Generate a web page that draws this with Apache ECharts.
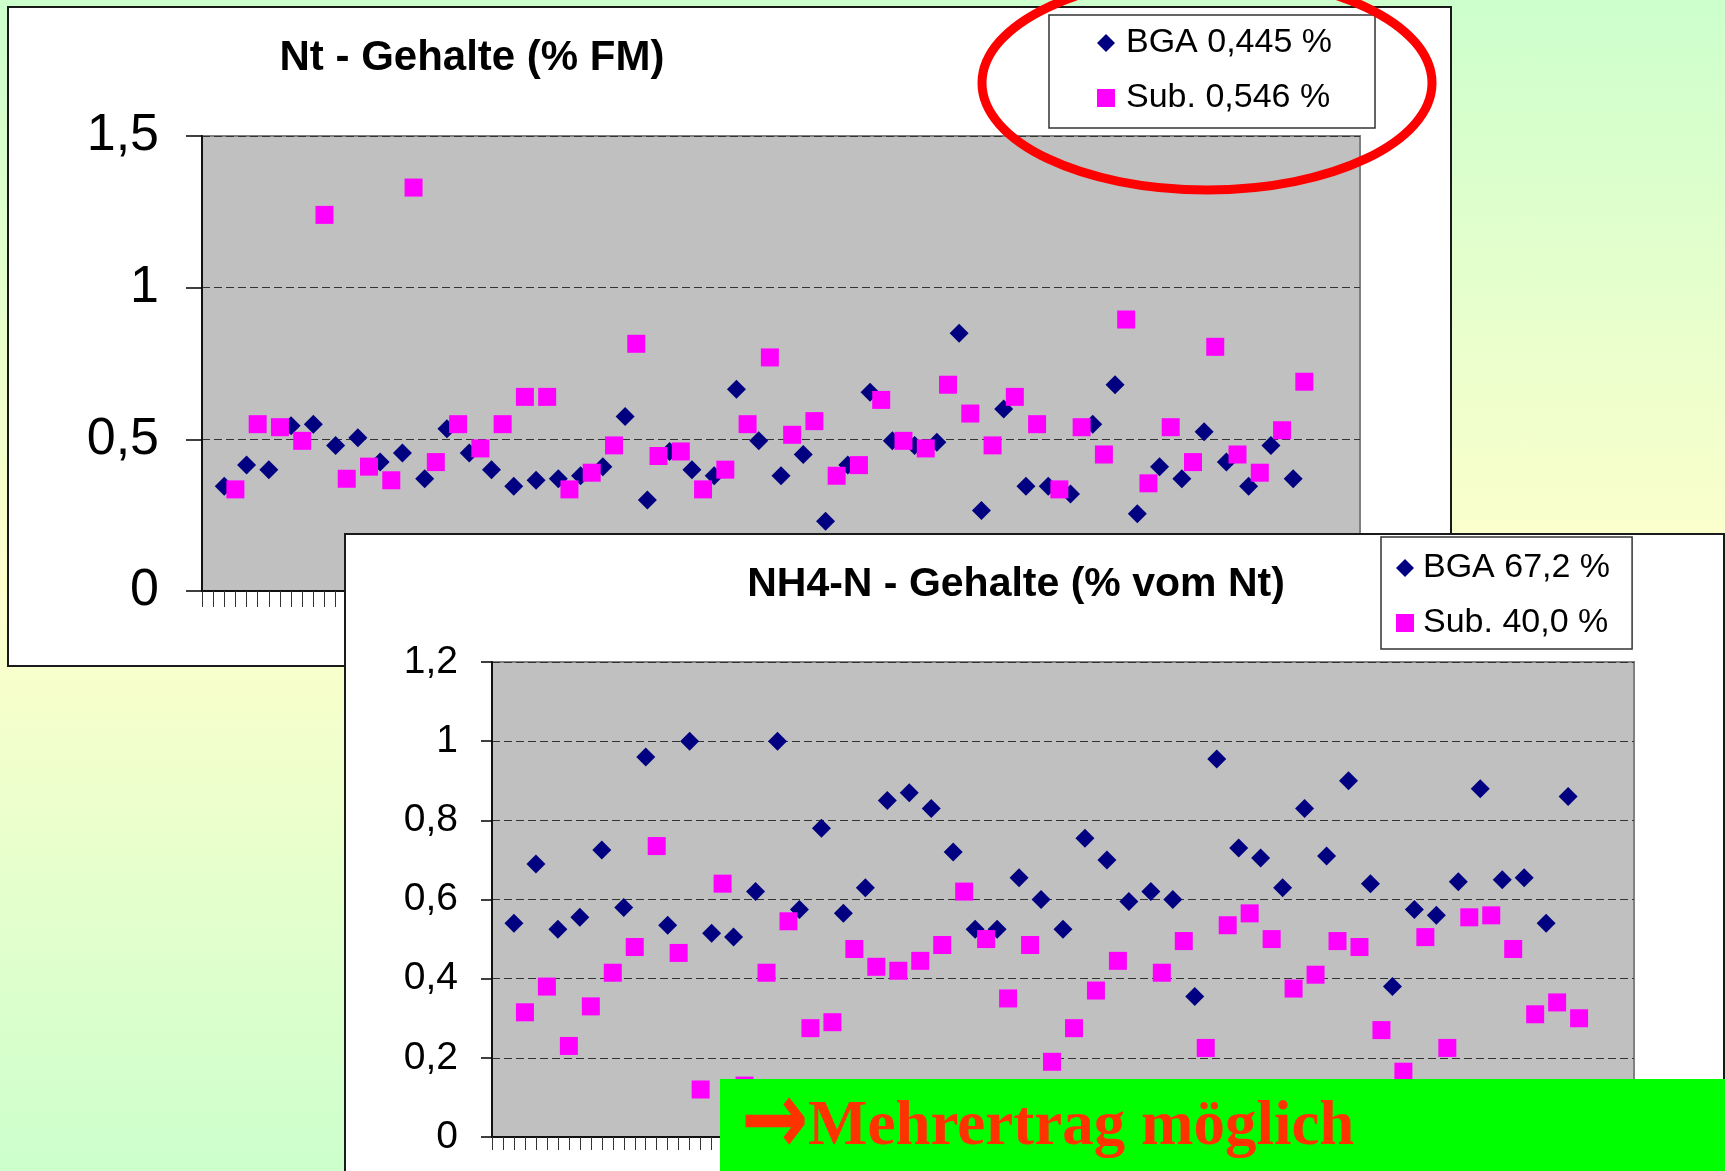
<!DOCTYPE html>
<html>
<head>
<meta charset="utf-8">
<title>Nt / NH4-N - Gehalte</title>
<script src="https://cdn.jsdelivr.net/npm/echarts@6/dist/echarts.min.js"></script>
<style>
  html, body { margin: 0; padding: 0; width: 1725px; height: 1171px; overflow: hidden; }
  body {
    position: relative;
    background: linear-gradient(to bottom, #ccffcc 0%, #ffffcc 50%, #ccffcc 100%);
  }
  .box { position: absolute; background: #fff; border: 2px solid #1a1a1a; box-sizing: border-box; }
  #topBox { left: 7px; top: 6px; width: 1445px; height: 661px; z-index: 1; }
  #topChart { position: absolute; left: 0; top: 0; width: 1725px; height: 1171px; z-index: 2; }
  #bottomBox { left: 344px; top: 533px; width: 1381px; height: 700px; z-index: 3; }
  #bottomChart { position: absolute; left: 344px; top: 534px; width: 1381px; height: 637px; z-index: 4; }
</style>
</head>
<body>
<div id="topBox" class="box"></div>
<div id="topChart"></div>
<div id="bottomBox" class="box"></div>
<div id="bottomChart"></div>
<script>
// x slots: samples alternate BGA / Substrat, starting at slot 3
const slots = Array.from({ length: 105 }, (_, i) => String(i + 1))

// Nt - Gehalte (% FM)
const ntTitle = 'Nt - Gehalte (% FM)'
const ntLegend = ['BGA 0,445 %', 'Sub. 0,546 %']
const ntTickLabels = ['0', '0,5', '1', '1,5']
const ntBga = [0.345, 0.415, 0.40, 0.545, 0.55, 0.48, 0.505, 0.425, 0.455, 0.37,
  0.535, 0.455, 0.40, 0.345, 0.365, 0.37, 0.38, 0.41, 0.575, 0.30,
  0.46, 0.40, 0.38, 0.665, 0.495, 0.38, 0.45, 0.23, 0.415, 0.655,
  0.495, 0.48, 0.49, 0.85, 0.265, 0.60, 0.345, 0.345, 0.32, 0.55,
  0.68, 0.255, 0.41, 0.37, 0.525, 0.425, 0.345, 0.48, 0.37]
const ntSub = [0.335, 0.55, 0.54, 0.495, 1.24, 0.37, 0.41, 0.365, 1.33, 0.425,
  0.55, 0.47, 0.55, 0.64, 0.64, 0.335, 0.39, 0.48, 0.815, 0.445,
  0.46, 0.335, 0.40, 0.55, 0.77, 0.515, 0.56, 0.38, 0.415, 0.63,
  0.495, 0.47, 0.68, 0.585, 0.48, 0.64, 0.55, 0.335, 0.54, 0.45,
  0.895, 0.355, 0.54, 0.425, 0.805, 0.45, 0.39, 0.53, 0.69]

// NH4-N - Gehalte (% vom Nt)
const nh4Title = 'NH4-N - Gehalte (% vom Nt)'
const nh4Legend = ['BGA 67,2 %', 'Sub. 40,0 %']
const nh4TickLabels = ['0', '0,2', '0,4', '0,6', '0,8', '1', '1,2']
const nh4Bga = [0.54, 0.69, 0.525, 0.555, 0.725, 0.58, 0.96, 0.535, 1.0, 0.515,
  0.505, 0.62, 1.0, 0.575, 0.78, 0.565, 0.63, 0.85, 0.87, 0.83,
  0.72, 0.525, 0.525, 0.655, 0.60, 0.525, 0.755, 0.70, 0.595, 0.62,
  0.60, 0.355, 0.955, 0.73, 0.705, 0.63, 0.83, 0.71, 0.90, 0.64,
  0.38, 0.575, 0.56, 0.645, 0.88, 0.65, 0.655, 0.54, 0.86]
const nh4Sub = [0.315, 0.38, 0.23, 0.33, 0.415, 0.48, 0.735, 0.465, 0.12, 0.64,
  0.13, 0.415, 0.545, 0.275, 0.29, 0.475, 0.43, 0.42, 0.445, 0.485,
  0.62, 0.50, 0.35, 0.485, 0.19, 0.275, 0.37, 0.445, 0.08, 0.415,
  0.495, 0.225, 0.535, 0.565, 0.50, 0.375, 0.41, 0.495, 0.48, 0.27,
  0.165, 0.505, 0.225, 0.555, 0.56, 0.475, 0.31, 0.34, 0.30]

const noteArrow = '\u2192'
const noteText = 'Mehrertrag m\u00f6glich'

const sans = 'Liberation Sans, Arial, sans-serif'
const bgaColor = '#000080'
const subColor = '#ff00ff'
const noteColor = '#ff3300'

// BGA on every second slot, Substrat right after
function toSlots(values, offset) {
  return values.map((v, k) => [offset + 2 * k, v])
}

function makeOption(cfg) {
  return {
    animation: false,
    legend: {
      orient: 'vertical',
      left: cfg.legend.left,
      top: cfg.legend.top,
      padding: cfg.legend.padding,
      itemGap: 21,
      itemWidth: 18,
      itemHeight: 18,
      selectedMode: false,
      backgroundColor: '#fff',
      borderColor: '#333',
      borderWidth: 1.5,
      textStyle: { fontSize: 34, color: '#000', fontFamily: sans, padding: [0, 0, 0, cfg.legend.textGap] },
      data: [
        { name: cfg.names[0], icon: 'diamond', itemStyle: { color: bgaColor, opacity: 1 } },
        { name: cfg.names[1], icon: 'rect', itemStyle: { color: subColor, opacity: 1 } }
      ]
    },
    grid: {
      left: cfg.grid.left,
      top: cfg.grid.top,
      width: cfg.grid.width,
      height: cfg.grid.height,
      show: true,
      backgroundColor: '#c0c0c0',
      borderColor: '#808080',
      borderWidth: 2,
      outerBoundsMode: 'none'
    },
    xAxis: {
      type: 'category',
      data: slots,
      boundaryGap: false,
      axisLine: { lineStyle: { color: '#111', width: 2 } },
      axisTick: { show: true, interval: 0, length: cfg.xTick, lineStyle: { color: '#333', width: 1 } },
      axisLabel: { show: false },
      splitLine: { show: false }
    },
    yAxis: {
      type: 'value',
      min: 0,
      max: cfg.max,
      interval: cfg.step,
      axisLine: { show: true, lineStyle: { color: '#111', width: 2 } },
      axisTick: { show: true, length: cfg.yTick, lineStyle: { color: '#000', width: 1.5 } },
      axisLabel: {
        color: '#000',
        fontSize: cfg.labelSize,
        fontFamily: sans,
        margin: cfg.labelMargin,
        formatter: (v, i) => cfg.ticks[i]
      },
      splitLine: { show: true, lineStyle: { type: [8, 4], color: '#333', width: 1 } }
    },
    series: [{
      name: cfg.names[0],
      type: 'scatter',
      symbol: 'diamond',
      symbolSize: 19,
      itemStyle: { color: bgaColor, opacity: 1 },
      data: toSlots(cfg.bga, 2)
    }, {
      name: cfg.names[1],
      type: 'scatter',
      symbol: 'rect',
      symbolSize: 18,
      itemStyle: { color: subColor, opacity: 1 },
      data: toSlots(cfg.sub, 3)
    }],
    graphic: cfg.graphic
  }
}

const topChart = echarts.init(document.getElementById('topChart'))
topChart.setOption(makeOption({
  names: ntLegend,
  bga: ntBga,
  sub: ntSub,
  ticks: ntTickLabels,
  max: 1.5,
  step: 0.5,
  grid: { left: 202, top: 136, width: 1158, height: 455 },
  legend: { left: 1049, top: 15, padding: [11, 43, 13, 48], textGap: 6 },
  labelSize: 52,
  labelMargin: 43,
  xTick: 16,
  yTick: 16,
  graphic: [{
    type: 'text',
    x: 472,
    y: 58,
    z: 50,
    style: { text: ntTitle, fontSize: 42, fontWeight: 'bold', fontFamily: sans, fill: '#000', align: 'center', verticalAlign: 'middle' }
  }, {
    // red marking round the legend
    type: 'ellipse',
    z: 100,
    shape: { cx: 1207, cy: 83, rx: 225, ry: 107 },
    style: { fill: 'none', stroke: '#ff0000', lineWidth: 9 }
  }]
}))

const bottomChart = echarts.init(document.getElementById('bottomChart'))
bottomChart.setOption(makeOption({
  names: nh4Legend,
  bga: nh4Bga,
  sub: nh4Sub,
  ticks: nh4TickLabels,
  max: 1.2,
  step: 0.2,
  grid: { left: 148, top: 128, width: 1142, height: 475 },
  legend: { left: 1037, top: 3, padding: [14, 22, 9, 15], textGap: 4 },
  labelSize: 39,
  labelMargin: 34,
  xTick: 13,
  yTick: 11,
  graphic: [{
    type: 'text',
    x: 672,
    y: 51,
    z: 50,
    style: { text: nh4Title, fontSize: 41, fontWeight: 'bold', fontFamily: sans, fill: '#000', align: 'center', verticalAlign: 'middle' }
  }, {
    type: 'rect',
    z: 100,
    shape: { x: 376, y: 545, width: 1005, height: 100 },
    style: { fill: '#00ff00' }
  }, {
    // fat arrow as in the slide font
    type: 'text',
    x: 397,
    y: 593,
    scaleX: 1.3,
    scaleY: 1.7,
    z: 101,
    style: { text: noteArrow, fontSize: 62, fontWeight: 'bold', fontFamily: 'DejaVu Sans, sans-serif', fill: noteColor, verticalAlign: 'middle' }
  }, {
    type: 'text',
    x: 464,
    y: 594,
    z: 101,
    style: { text: noteText, fontSize: 63, fontWeight: 'bold', fontFamily: 'Liberation Serif, DejaVu Serif, serif', fill: noteColor, verticalAlign: 'middle' }
  }]
}))
</script>
</body>
</html>
